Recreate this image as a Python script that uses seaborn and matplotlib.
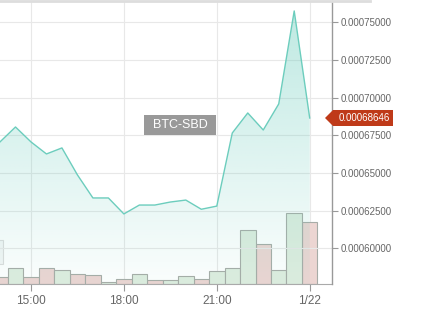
import matplotlib
matplotlib.use("Agg")
import matplotlib.pyplot as plt
import seaborn as sns
import numpy as np
import pandas as pd
from matplotlib.patches import Polygon, Rectangle
from matplotlib.lines import Line2D

# ---------------- data ----------------
times = ["14:00", "14:30", "15:00", "15:30", "16:00", "16:30", "17:00", "17:30",
         "18:00", "18:30", "19:00", "19:30", "20:00", "20:30", "21:00", "21:30",
         "22:00", "22:30", "23:00", "23:30", "00:00"]
prices = [0.0006706, 0.0006805, 0.0006706, 0.0006626, 0.0006666, 0.0006487,
          0.0006334, 0.0006334, 0.0006228, 0.0006287, 0.0006287, 0.0006307,
          0.0006320, 0.0006259, 0.0006280, 0.0006765, 0.0006898, 0.0006785,
          0.0006958, 0.0007575, 0.00068646]
volumes = [7.0, 15.7, 6.7, 15.7, 14.0, 9.7, 8.7, 1.7, 5.0, 9.7, 3.7, 3.7,
           7.7, 5.0, 13.0, 15.7, 53.7, 40.0, 14.0, 71.0, 62.0]
directions = ["down", "up", "down", "down", "up", "down", "down", "up",
              "down", "up", "down", "up", "up", "down", "up", "up",
              "up", "down", "up", "up", "down"]
x_ticks = [15, 18, 21, 24]
x_tick_labels = ["15:00", "18:00", "21:00", "1/22"]
y_ticks = [0.0006, 0.000625, 0.00065, 0.000675, 0.0007, 0.000725, 0.00075]
pair_label = "BTC-SBD"
last_label = "0.00068646"

def to_hours(t):
    h, m = (int(v) for v in t.split(":"))
    h = 24 if h == 0 else h
    return h + m / 60.0

hours = [to_hours(t) for t in times]
df = pd.DataFrame({"hour": hours, "price": prices, "volume": volumes, "dir": directions})

# ---------------- figure ----------------
W, H = 426, 335
fig = plt.figure(figsize=(W / 100, H / 100), dpi=100)
fig.patch.set_facecolor("white")

ax_left, ax_right, ax_top, ax_bot = 0, 332, 1, 284
pos = [ax_left / W, 1 - ax_bot / H, (ax_right - ax_left) / W, (ax_bot - ax_top) / H]
axv = fig.add_axes(pos)
axp = axv.twinx()
axv.set_zorder(0)
axp.set_zorder(1)
axp.patch.set_visible(False)

XLIM = (14.0, 24.72)
YLIM = (0.0005763, 0.0007641)

# volume bars
sns.barplot(data=df, x="hour", y="volume", hue="dir", native_scale=True,
            palette={"up": "#dcefdd", "down": "#f1d2cd"}, dodge=False, width=1.0,
            edgecolor="#a7aca7", linewidth=0.8, errorbar=None, legend=False, ax=axv)
axv.set_ylim(0, 283)
axv.set_xlim(*XLIM)

# price line
sns.lineplot(data=df, x="hour", y="price", color="#6ccdbd", linewidth=1.0, ax=axp, zorder=3)
axp.set_xlim(*XLIM)
axp.set_ylim(*YLIM)

# gradient area
poly = axp.fill_between(df["hour"], df["price"], YLIM[0], color="none", linewidth=0)
alpha = np.linspace(0.45, 0.03, 256).reshape(-1, 1)
img = np.zeros((256, 1, 4))
img[..., 0] = 108 / 255
img[..., 1] = 205 / 255
img[..., 2] = 189 / 255
img[..., 3] = alpha
im = axp.imshow(img, extent=[XLIM[0], XLIM[1], YLIM[0], YLIM[1]], aspect="auto",
                origin="upper", zorder=2)
im.set_clip_path(poly.get_paths()[0], transform=axp.transData)
axp.set_xlim(*XLIM)
axp.set_ylim(*YLIM)

# axes styling
axv.set_xticks(x_ticks)
axv.set_xticklabels(x_tick_labels)
axv.set_xlabel("")
axv.set_ylabel("")
axp.set_xlabel("")
axp.set_ylabel("")
axv.yaxis.set_visible(False)
axp.set_yticks(y_ticks)
axp.set_yticklabels([f"{v:.8f}" for v in y_ticks])
axp.tick_params(axis="y", right=True, left=False, labelright=True, labelleft=False,
                length=4, width=0.8, color="#999999", labelcolor="#666666",
                labelsize=7, pad=2)
for lab in axp.get_yticklabels():
    lab.set_family(["Liberation Sans", "DejaVu Sans"])
axv.tick_params(axis="x", length=5, width=0.8, color="#999999", labelcolor="#666666",
                labelsize=8.5, pad=3)
for lab in axv.get_xticklabels():
    lab.set_family(["Liberation Sans", "DejaVu Sans"])

axv.grid(axis="x", color="#e8e8e8", linewidth=0.8)
axv.set_axisbelow(True)
axp.grid(axis="y", color="#e8e8e8", linewidth=0.8, zorder=0)
axp.set_axisbelow(True)
for s in ["top", "left", "right"]:
    axv.spines[s].set_visible(False)
axv.spines["bottom"].set_color("#aaaaaa")
for s in ["top", "left", "bottom"]:
    axp.spines[s].set_visible(False)
axp.spines["right"].set_color("#999999")
axp.spines["right"].set_linewidth(1.0)

# top border line
fig.add_artist(Line2D([0, 370 / W], [1 - 1 / H, 1 - 1 / H], color="#dddddd",
                      linewidth=2, transform=fig.transFigure))
# faint box edge at left
fig.add_artist(Rectangle((-6 / W, 1 - 264 / H), 9 / W, 24 / H, transform=fig.transFigure,
                         facecolor="#f4f6f6", edgecolor="#dcdcdc", linewidth=0.8))

# pair label
bx0, bx1, by0, by1 = 144, 216, 115, 135
fig.add_artist(Rectangle((bx0 / W, 1 - by1 / H), (bx1 - bx0) / W, (by1 - by0) / H,
                         transform=fig.transFigure, facecolor="#999999",
                         edgecolor="none", zorder=5))
fig.text((bx0 + bx1) / 2 / W, 1 - (by0 + by1) / 2 / H, pair_label, color="white",
         ha="center", va="center", fontsize=9, family=["Liberation Sans", "DejaVu Sans"],
         zorder=6)

# last price label
fig.canvas.draw()
yd = axp.transData.transform((hours[-1], prices[-1]))[1]
hh = 8
pts = [(325, yd), (333, yd + hh), (393, yd + hh), (393, yd - hh), (333, yd - hh)]
pts_fig = [(x / W, y / H) for x, y in pts]
fig.add_artist(Polygon(pts_fig, closed=True, transform=fig.transFigure,
                       facecolor="#bf3a19", edgecolor="none", zorder=5))
fig.text(364 / W, yd / H, last_label, color="white", ha="center", va="center",
         fontsize=7, family=["Liberation Sans", "DejaVu Sans"], zorder=6)

fig.savefig("out.png", dpi=100)
